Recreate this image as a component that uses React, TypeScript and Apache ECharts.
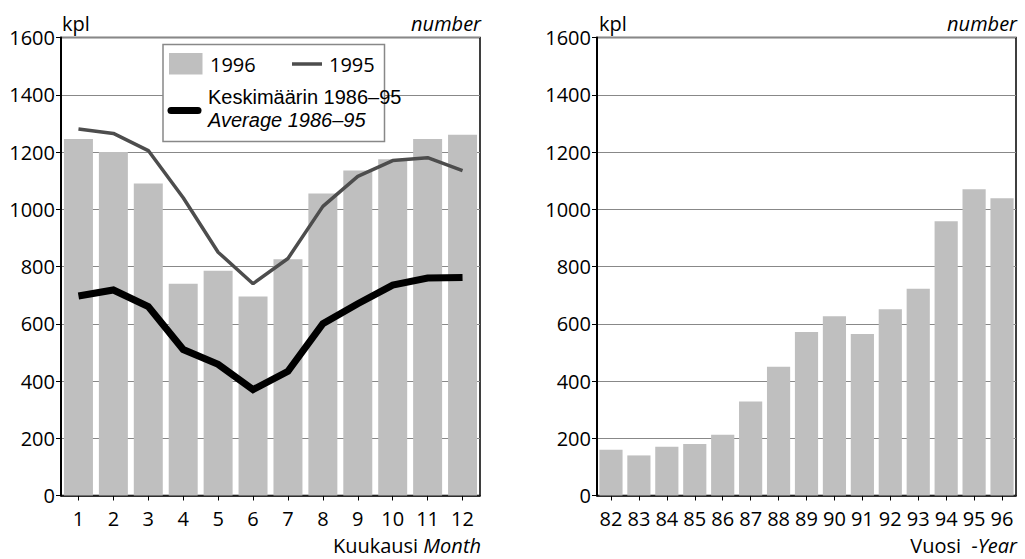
import React, { useEffect, useRef } from "react";
import * as echarts from "echarts";

const months = ["1", "2", "3", "4", "5", "6", "7", "8", "9", "10", "11", "12"];
const sales1996 = [1245, 1200, 1090, 740, 785, 695, 825, 1055, 1135, 1175, 1245, 1260];
const sales1995 = [1280, 1265, 1205, 1040, 850, 740, 828, 1010, 1115, 1170, 1180, 1135];
const average8695 = [697, 718, 660, 510, 458, 370, 434, 600, 670, 735, 760, 762];

const years = ["82", "83", "84", "85", "86", "87", "88", "89", "90", "91", "92", "93", "94", "95", "96"];
const yearly = [160, 140, 170, 180, 212, 328, 450, 571, 626, 564, 651, 722, 958, 1070, 1038];

const yTicks = [0, 200, 400, 600, 800, 1000, 1200, 1400, 1600];

const FONT = "'Open Sans', 'Noto Sans', sans-serif";
const FONT2 = "'Liberation Sans', Arial, sans-serif";
const FS = 20;
const BAR = "#bfbfbf";

export default function App() {
  const ref = useRef<HTMLDivElement>(null);
  useEffect(() => {
    if (!ref.current) return;
    const chart = echarts.init(ref.current, undefined, { renderer: "svg" });

    const gridTop = 37.5;
    const gridH = 458;
    const grids = [
      { left: 61, top: gridTop, width: 419, height: gridH },
      { left: 597, top: gridTop, width: 419, height: gridH },
    ];

    const xAxisBase = (gi: number, data: string[]) => ({
      type: "category",
      gridIndex: gi,
      data,
      axisLine: { show: true, lineStyle: { color: "#000", width: 1.5 } },
      axisTick: { show: true, alignWithLabel: true, length: 5, lineStyle: { color: "#000", width: 1 } },
      axisLabel: { color: "#000", fontSize: FS, fontFamily: FONT, margin: 13, interval: 0 },
      splitLine: { show: false },
    });
    const yAxisBase = (gi: number) => ({
      type: "value",
      gridIndex: gi,
      min: yTicks[0],
      max: yTicks[yTicks.length - 1],
      interval: 200,
      axisLine: { show: true, lineStyle: { color: "#000", width: 2 } },
      axisTick: { show: true, length: 5, lineStyle: { color: "#000", width: 1 } },
      axisLabel: {
        color: "#000",
        fontSize: FS,
        fontFamily: FONT,
        margin: 6,
        formatter: (v: number) => String(v),
      },
      splitLine: { show: true, lineStyle: { color: "#888", width: 1 } },
    });

    const txt = (x: number, y: number, text: string, align: string, italic = false, font = FONT) => ({
      type: "text",
      x,
      y,
      silent: true,
      style: {
        text,
        fill: "#000",
        fontSize: FS,
        fontFamily: font,
        fontStyle: italic ? "italic" : "normal",
        align,
        verticalAlign: "middle",
        textAlign: align,
        textVerticalAlign: "middle",
      },
    });

    const richTxt = (x: number, y: number, a: string, b: string) => ({
      type: "text",
      x,
      y,
      silent: true,
      style: {
        text: `{a|${a}}{b|${b}}`,
        align: "right",
        verticalAlign: "middle",
        textAlign: "right",
        textVerticalAlign: "middle",
        rich: {
          a: { fontSize: FS, fontFamily: FONT, fill: "#000", color: "#000" },
          b: { fontSize: FS, fontFamily: FONT, fontStyle: "italic", fill: "#000", color: "#000" },
        },
      },
    });

    chart.setOption({
      animation: false,
      backgroundColor: "#fff",
      grid: grids.map((g) => ({ ...g, show: true, borderColor: "#000", borderWidth: 1.5, backgroundColor: "transparent" })),
      xAxis: [xAxisBase(0, months), xAxisBase(1, years)],
      yAxis: [yAxisBase(0), yAxisBase(1)],
      series: [
        {
          name: "1996",
          type: "bar",
          xAxisIndex: 0,
          yAxisIndex: 0,
          data: sales1996,
          barCategoryGap: "17%",
          itemStyle: { color: BAR },
          z: 2,
        },
        {
          name: "1995",
          type: "line",
          xAxisIndex: 0,
          yAxisIndex: 0,
          data: sales1995,
          symbol: "none",
          lineStyle: { color: "#4d4d4d", width: 3.5 },
          z: 3,
        },
        {
          name: "Keskimäärin 1986–95",
          type: "line",
          xAxisIndex: 0,
          yAxisIndex: 0,
          data: average8695,
          symbol: "none",
          lineStyle: { color: "#000", width: 7, join: "miter" },
          z: 4,
        },
        {
          name: "Vuosi",
          type: "bar",
          xAxisIndex: 1,
          yAxisIndex: 1,
          data: yearly,
          barCategoryGap: "17%",
          itemStyle: { color: BAR },
          z: 2,
        },
      ],
      graphic: [
        txt(62, 23, "kpl", "left"),
        txt(481, 23, "number", "right", true),
        txt(599, 23, "kpl", "left"),
        txt(1017, 23, "number", "right", true),
        richTxt(481, 545, "Kuukausi ", "Month"),
        richTxt(1017, 545, "Vuosi  ", "-Year"),
        {
          type: "rect",
          z: 100,
          shape: { x: 163, y: 44.5, width: 221.5, height: 97 },
          style: { fill: "#fff", stroke: "#888", lineWidth: 1.5 },
        },
        {
          type: "rect",
          z: 101,
          shape: { x: 169, y: 53, width: 33.5, height: 21.5 },
          style: { fill: BAR },
        },
        { ...txt(210, 64.5, "1996", "left"), z: 101 },
        {
          type: "line",
          z: 101,
          shape: { x1: 292, y1: 64, x2: 322, y2: 64 },
          style: { stroke: "#4d4d4d", lineWidth: 3.5 },
        },
        { ...txt(329, 64.5, "1995", "left"), z: 101 },
        {
          type: "line",
          z: 101,
          shape: { x1: 171, y1: 110.5, x2: 198, y2: 110.5 },
          style: { stroke: "#000", lineWidth: 7, lineCap: "round" },
        },
        { ...txt(208, 96.5, "Keskimäärin 1986–95", "left", false, FONT2), z: 101 },
        { ...txt(208, 119.5, "Average 1986–95", "left", true, FONT2), z: 101 },
      ],
    });
    return () => chart.dispose();
  }, []);
  return (
    <div
      ref={ref}
      style={{ position: "fixed", left: 0, top: 0, width: 1025, height: 559, background: "#fff" }}
    />
  );
}
